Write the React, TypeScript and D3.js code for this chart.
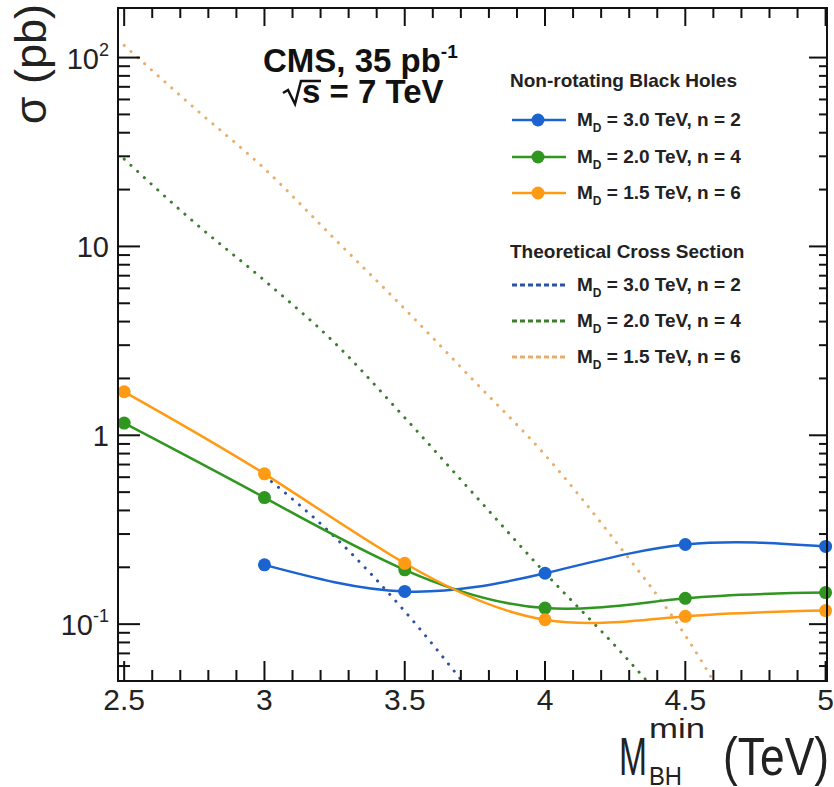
import React from "react";
import * as d3 from "d3";

const W = 834;
const H = 787;

// axis ticks
const xTicks = [2.5, 3, 3.5, 4, 4.5, 5];
const xTickLabels = ["2.5", "3", "3.5", "4", "4.5", "5"];
const yMajor = [0.1, 1, 10, 100];
const yMajorBase = ["10", "1", "10", "10"];
const yMajorExp = ["-1", "", "", "2"];

// measured limits (solid lines with markers)
const measX = [2.5, 3, 3.5, 4, 4.5, 5];
const blueMeasX = [3, 3.5, 4, 4.5, 5];
const blueMeas = [0.206, 0.149, 0.186, 0.264, 0.258];
const greenMeas = [1.16, 0.468, 0.194, 0.1216, 0.137, 0.147];
const orangeMeas = [1.7, 0.625, 0.21, 0.1055, 0.11, 0.118];

// theoretical cross sections (dotted)
const blueTheoryX = [3.0, 3.25, 3.5, 3.75];
const blueTheory = [0.61, 0.29, 0.117, 0.041];
const greenTheoryX = [2.5, 2.75, 3.0, 3.25, 3.5, 3.75, 4.0, 4.25, 4.5];
const greenTheory = [29.0, 13.4, 6.6, 3.09, 1.24, 0.481, 0.187, 0.0768, 0.0294];
const orangeTheoryX = [2.5, 2.75, 3.0, 3.25, 3.5, 3.75, 4.0, 4.25, 4.5, 4.75];
const orangeTheory = [116, 54.1, 25.8, 10.96, 4.67, 1.92, 0.787, 0.276, 0.0871, 0.0203];

const legendLabels = ["3.0 TeV, n = 2", "2.0 TeV, n = 4", "1.5 TeV, n = 6"];

const BLUE = "#1b63d1";
const GREEN = "#2f961f";
const ORANGE = "#ff9a14";
const BLUE_TH = "#2d50a8";
const GREEN_TH = "#3d7d30";
const ORANGE_TH = "#e8ad6a";

const FONT = "'Liberation Sans', Arial, Helvetica, sans-serif";

const left = 118;
const right = 827;
const top = 8;
const bottom = 681;

const App = () => {
  const x = d3.scaleLinear().domain([2.478, 5.005]).range([left, right]);
  const y = d3.scaleLog().domain([0.05, 183]).range([bottom, top]);

  const solid = d3
    .line<[number, number]>()
    .x((d) => x(d[0]))
    .y((d) => y(d[1]))
    .curve(d3.curveNatural);
  const dotted = d3
    .line<[number, number]>()
    .x((d) => x(d[0]))
    .y((d) => y(d[1]))
    .curve(d3.curveMonotoneX);

  const zip = (xs: number[], ys: number[]) =>
    ys.map((v, i) => [xs[i], v] as [number, number]);

  const measured = [
    { color: BLUE, pts: zip(blueMeasX, blueMeas) },
    { color: GREEN, pts: zip(measX, greenMeas) },
    { color: ORANGE, pts: zip(measX, orangeMeas) },
  ];
  const theory = [
    { color: BLUE_TH, pts: zip(blueTheoryX, blueTheory) },
    { color: GREEN_TH, pts: zip(greenTheoryX, greenTheory) },
    { color: ORANGE_TH, pts: zip(orangeTheoryX, orangeTheory) },
  ];

  const xMinor = d3.range(25, 51).map((v) => v / 10).filter((v) => !xTicks.includes(v));
  const yMinor: number[] = [];
  [0.01, 0.1, 1, 10, 100].forEach((dec) => {
    for (let k = 2; k <= 9; k++) {
      const v = dec * k;
      if (v >= 0.05 && v <= 183) yMinor.push(v);
    }
  });

  const rows1 = [120, 157, 193];
  const rows2 = [285, 321, 357];

  return (
    <div style={{ position: "absolute", left: 0, top: 0 }}>
      <svg width={W} height={H} style={{ display: "block", background: "#fff" }} fontFamily={FONT}>
        <defs>
          <clipPath id="plotArea">
            <rect x={left} y={top} width={right - left} height={bottom - top} />
          </clipPath>
        </defs>

        {/* theory curves */}
        <g clipPath="url(#plotArea)">
          {theory.map((s, i) => (
            <path
              key={"th" + i}
              d={dotted(s.pts) || ""}
              fill="none"
              stroke={s.color}
              strokeWidth={3}
              strokeDasharray="0.1 9"
              strokeLinecap="round"
            />
          ))}
          {measured.map((s, i) => (
            <path key={"m" + i} d={solid(s.pts) || ""} fill="none" stroke={s.color} strokeWidth={2.5} />
          ))}
        </g>
        {measured.map((s, i) => (
          <g key={"mk" + i}>
            {s.pts.map((p, j) => (
              <circle key={j} cx={x(p[0])} cy={y(p[1])} r={6.5} fill={s.color} />
            ))}
          </g>
        ))}

        {/* frame and ticks */}
        <rect x={left} y={top} width={right - left} height={bottom - top} fill="none" stroke="#111" strokeWidth={2} />
        {xTicks.map((t) => (
          <g key={"xt" + t} stroke="#111" strokeWidth={2}>
            <line x1={x(t)} x2={x(t)} y1={bottom} y2={bottom - 20} />
            <line x1={x(t)} x2={x(t)} y1={top} y2={top + 18} />
          </g>
        ))}
        {xMinor.map((t) => (
          <g key={"xm" + t} stroke="#111" strokeWidth={2}>
            <line x1={x(t)} x2={x(t)} y1={bottom} y2={bottom - 11} />
            <line x1={x(t)} x2={x(t)} y1={top} y2={top + 10} />
          </g>
        ))}
        {yMajor.map((t) => (
          <g key={"yt" + t} stroke="#111" strokeWidth={2}>
            <line x1={left} x2={left + 22} y1={y(t)} y2={y(t)} />
            <line x1={right} x2={right - 18} y1={y(t)} y2={y(t)} />
          </g>
        ))}
        {yMinor.map((t) => (
          <g key={"ym" + t} stroke="#111" strokeWidth={2}>
            <line x1={left} x2={left + 12} y1={y(t)} y2={y(t)} />
            <line x1={right} x2={right - 8} y1={y(t)} y2={y(t)} />
          </g>
        ))}

        {/* tick labels */}
        {xTicks.map((t, i) => (
          <text key={"xl" + t} x={x(t)} y={710} fontSize={30} textAnchor="middle" fill="#222">
            {xTickLabels[i]}
          </text>
        ))}
        {yMajor.map((t, i) => (
          <text key={"yl" + t} x={109} y={y(t) + 11} fontSize={29} textAnchor="end" fill="#222">
            {yMajorBase[i]}
            {yMajorExp[i] && (
              <tspan fontSize={18} dy={-13}>
                {yMajorExp[i]}
              </tspan>
            )}
          </text>
        ))}

        {/* axis titles */}
        <text transform="translate(46,4) rotate(-90)" textAnchor="end" fontSize={45} fill="#222">
          σ (pb)
        </text>
        <text x={619} y={775} fontSize={54} fill="#222" textLength={28} lengthAdjust="spacingAndGlyphs">
          M
        </text>
        <text x={649} y={738} fontSize={28} fill="#222" textLength={56} lengthAdjust="spacingAndGlyphs">
          min
        </text>
        <text x={649} y={785} fontSize={25} fill="#222" textLength={33} lengthAdjust="spacingAndGlyphs">
          BH
        </text>
        <text x={723} y={775} fontSize={54} fill="#222" textLength={106} lengthAdjust="spacingAndGlyphs">
          (TeV)
        </text>

        {/* CMS label */}
        <text x={263} y={72} fontSize={33} fontWeight="bold" fill="#111">
          CMS, 35 pb
          <tspan fontSize={19} dy={-14}>
            -1
          </tspan>
        </text>
        <path d="M283,93 L288,90 L295,104 L301,81 L321,81" fill="none" stroke="#111" strokeWidth={2.5} />
        <text x={302} y={103} fontSize={33} fontWeight="bold" fill="#111">
          s = 7 TeV
        </text>

        {/* legend */}
        <text x={510} y={87} fontSize={19} fontWeight="bold" fill="#222">
          Non-rotating Black Holes
        </text>
        {measured.map((s, i) => (
          <g key={"lg1" + i}>
            <line x1={512} x2={566} y1={rows1[i]} y2={rows1[i]} stroke={s.color} strokeWidth={2.5} />
            <circle cx={538} cy={rows1[i]} r={6.5} fill={s.color} />
            <text x={577} y={rows1[i] + 6} fontSize={19} fontWeight="bold" fill="#222">
              M
              <tspan fontSize={12} dy={6}>
                D
              </tspan>
              <tspan dy={-6}> = {legendLabels[i]}</tspan>
            </text>
          </g>
        ))}
        <text x={510} y={258} fontSize={19} fontWeight="bold" fill="#222">
          Theoretical Cross Section
        </text>
        {theory.map((s, i) => (
          <g key={"lg2" + i}>
            <line
              x1={512}
              x2={567}
              y1={rows2[i]}
              y2={rows2[i]}
              stroke={s.color}
              strokeWidth={3}
              strokeDasharray="5 3"
            />
            <text x={577} y={rows2[i] + 6} fontSize={19} fontWeight="bold" fill="#222">
              M
              <tspan fontSize={12} dy={6}>
                D
              </tspan>
              <tspan dy={-6}> = {legendLabels[i]}</tspan>
            </text>
          </g>
        ))}
      </svg>
    </div>
  );
};

export default App;
